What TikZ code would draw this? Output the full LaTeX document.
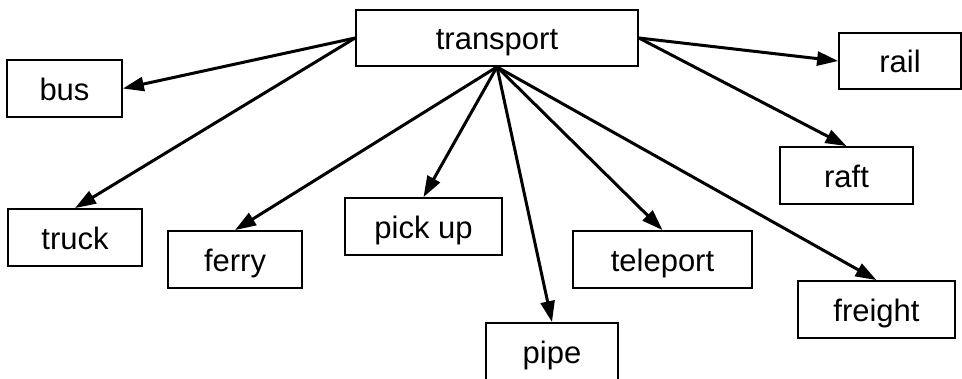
\documentclass[tikz,border=0pt]{standalone}
\usepackage{fontspec}
\setmainfont{Liberation Sans}
\usetikzlibrary{arrows.meta}
\tikzset{
  box/.style={draw=black, line width=1.8pt, inner sep=0pt, fill=white,
    text height=23pt, text depth=0pt,
    font=\fontsize{31}{37}\selectfont},
  conn/.style={line width=3pt, -{Triangle[length=21pt,width=14pt]}}
}
\begin{document}
\begin{tikzpicture}[x=1pt,y=-1pt]
\useasboundingbox[fill=white] (0,0) rectangle (962,378);
\node[box, minimum width=282pt, minimum height=56pt] (transport) at (497,38) {transport};
\node[box, minimum width=115pt, minimum height=57pt] (bus) at (64.5,88.5) {bus};
\node[box, minimum width=122pt, minimum height=56pt] (rail) at (900,61) {rail};
\node[box, minimum width=133pt, minimum height=57pt] (raft) at (846.5,175.5) {raft};
\node[box, minimum width=134pt, minimum height=57pt] (truck) at (75,237.5) {truck};
\node[box, minimum width=134pt, minimum height=57pt] (ferry) at (235,259.5) {ferry};
\node[box, minimum width=157pt, minimum height=57pt] (pickup) at (423.5,226.5) {pick up};
\node[box, minimum width=132pt, minimum height=57pt] (pipe) at (552,351.5) {pipe};
\node[box, minimum width=179pt, minimum height=57pt] (teleport) at (662.5,259.5) {teleport};
\node[box, minimum width=157pt, minimum height=57pt] (freight) at (876.5,309.5) {freight};
\draw[conn] (transport.west) -- (bus.east);
\draw[conn] (transport.west) -- (truck.north);
\draw[conn] (transport.east) -- (rail.west);
\draw[conn] (transport.east) -- (raft.north);
\draw[conn] (transport.south) -- (ferry.north);
\draw[conn] (transport.south) -- (pickup.north);
\draw[conn] (transport.south) -- (pipe.north);
\draw[conn] (transport.south) -- (teleport.north);
\draw[conn] (transport.south) -- (freight.north);
\end{tikzpicture}
\end{document}
